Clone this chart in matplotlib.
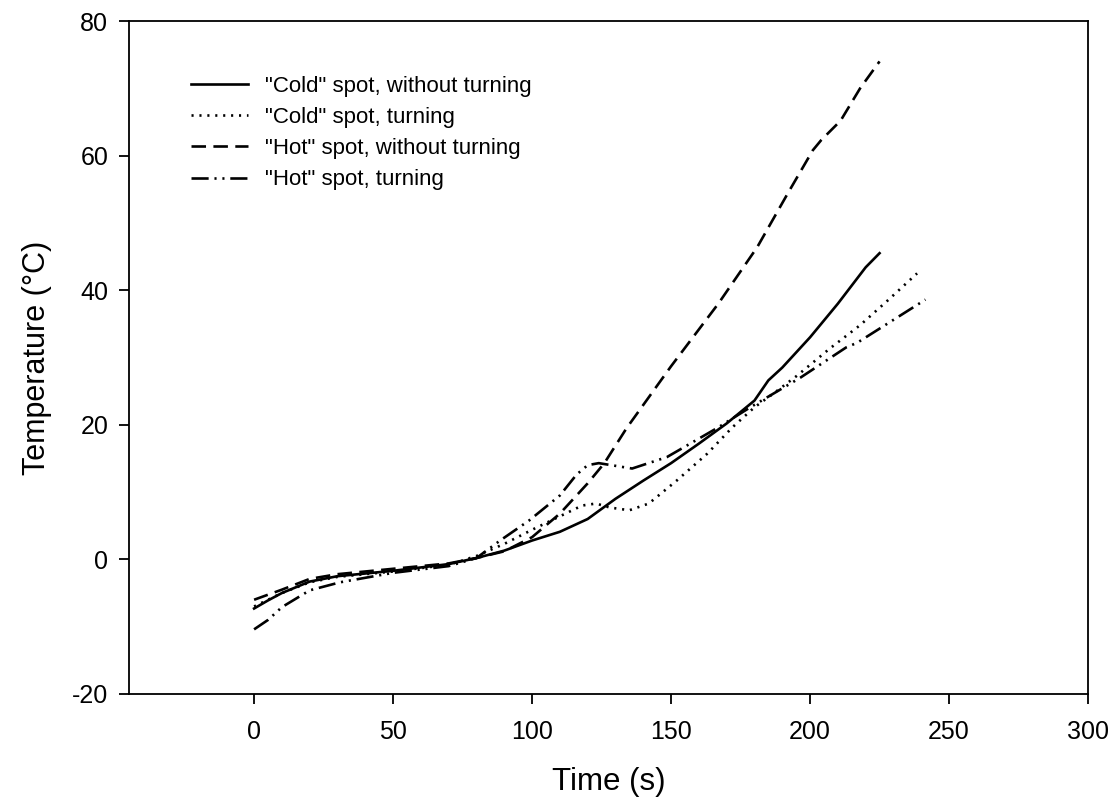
import matplotlib
matplotlib.use("Agg")
import matplotlib.pyplot as plt
from matplotlib import font_manager

# pick the regular (not narrow) Liberation Sans
font_manager.fontManager.ttflist = [
    f for f in font_manager.fontManager.ttflist
    if not (f.name.startswith("Liberation Sans") and "Narrow" in f.fname)]
plt.rcParams['font.family'] = ['Liberation Sans', 'DejaVu Sans']
plt.rcParams['axes.unicode_minus'] = False

# "Cold" spot, without turning
cold_x = [0, 5, 10, 20, 30, 50, 70, 80, 90, 100, 110, 120, 125, 130, 140, 150,
          160, 170, 180, 185, 190, 200, 210, 220, 225]
cold_y = [-7.3, -6.1, -5.0, -3.3, -2.5, -1.7, -0.7, 0.2, 1.3, 2.8, 4.1, 6.0,
          7.5, 9.0, 11.7, 14.3, 17.2, 20.2, 23.6, 26.6, 28.5, 33.0, 38.0, 43.4,
          45.5]

# "Cold" spot, turning
cold_turn_x = [0, 10, 20, 30, 50, 70, 80, 90, 100, 110, 118, 123, 128, 135,
               142, 152, 163, 172, 180, 187, 195, 200, 207, 218, 228, 238.5]
cold_turn_y = [-7.0, -5.0, -3.4, -2.6, -1.8, -0.8, 0.5, 2.3, 4.4, 6.4, 8.0,
               8.3, 7.7, 7.3, 8.3, 11.7, 15.7, 19.6, 22.6, 24.7, 27.2, 28.9,
               31.3, 34.8, 38.5, 42.5]

# "Hot" spot, without turning
hot_x = [0, 10, 20, 30, 50, 70, 80, 90, 100, 110, 120, 126, 134, 150, 167,
         181, 192, 201, 204, 211, 218, 225]
hot_y = [-6.0, -4.5, -2.9, -2.2, -1.4, -0.6, 0.2, 1.2, 3.3, 6.8, 11.3, 14.3,
         19.5, 28.7, 38.0, 46.4, 54.4, 60.8, 62.3, 65.2, 70.0, 74.0]

# "Hot" spot, turning
hot_turn_x = [0, 5, 10, 20, 31, 50, 70, 80, 88.5, 99, 110, 116, 120, 124,
              130, 136, 148.5, 166.5, 178.5, 196.5, 213, 217, 241.5]
hot_turn_y = [-10.4, -9.0, -7.1, -4.6, -3.4, -2.0, -1.0, 0.2, 2.8, 5.8, 9.5,
              12.6, 14.0, 14.3, 13.9, 13.5, 15.2, 19.5, 22.6, 27.0, 31.5, 32.2,
              38.6]

fig = plt.figure(figsize=(11.14, 8.09), dpi=100)
ax = fig.add_axes([0.1158, 0.1422, 0.8609, 0.8318])

lw = 1.9
ax.plot(cold_x, cold_y, color="black", lw=lw, linestyle="-",
        label='"Cold" spot, without turning')
ax.plot(cold_turn_x, cold_turn_y, color="black", lw=lw, linestyle=(0, (0.8, 2.2)),
        label='"Cold" spot, turning')
ax.plot(hot_x, hot_y, color="black", lw=lw, linestyle=(0, (5.5, 2.8)),
        label='"Hot" spot, without turning')
ax.plot(hot_turn_x, hot_turn_y, color="black", lw=lw,
        linestyle=(0, (6.5, 2.2, 0.8, 2.2, 0.8, 2.2)),
        label='"Hot" spot, turning')

ax.set_xlim(-45, 300)
ax.set_ylim(-20, 80)
ax.set_xticks([0, 50, 100, 150, 200, 250, 300])
ax.set_yticks([-20, 0, 20, 40, 60, 80])

for s in ax.spines.values():
    s.set_linewidth(1.3)

ax.tick_params(axis="both", direction="out", length=7, width=1.3,
               labelsize=18, top=False, right=False)
ax.tick_params(axis="x", pad=12)
ax.tick_params(axis="y", pad=8)

ax.set_xlabel("Time (s)", fontsize=22.5, labelpad=16)
ax.set_ylabel("Temperature (°C)", fontsize=22, labelpad=14)

ax.legend(loc="upper left", bbox_to_anchor=(0.055, 0.932), frameon=False,
          fontsize=16, handlelength=2.6, handletextpad=0.75,
          labelspacing=0.46, borderaxespad=0)

fig.savefig("out.png", dpi=100)
